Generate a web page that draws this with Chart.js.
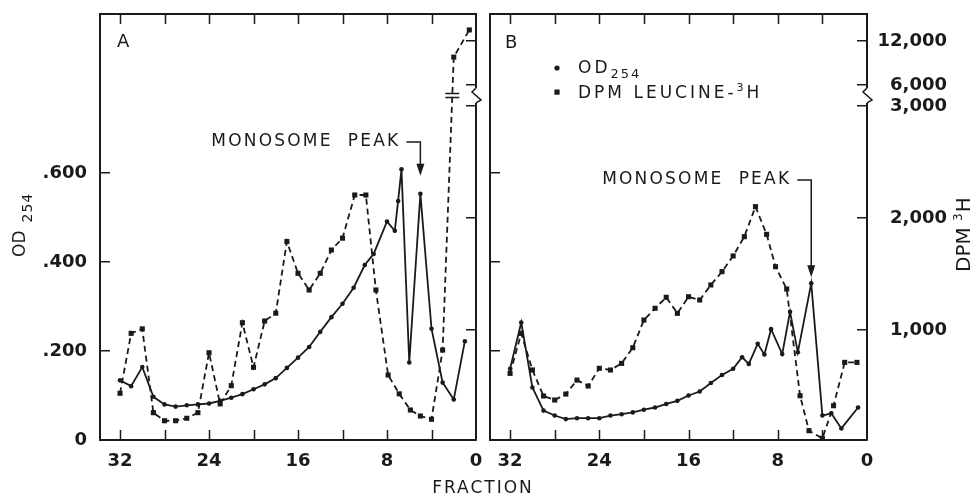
<!DOCTYPE html>
<html lang="en">
<head>
<meta charset="utf-8">
<title>OD254 and DPM leucine-3H across gradient fractions</title>
<script src="https://cdn.jsdelivr.net/npm/chart.js@4.4.1/dist/chart.umd.min.js"></script>
<style>
  body, html { margin: 0; padding: 0; background: #fff; }
  #wrap { position: relative; width: 974px; height: 497px; overflow: hidden; }
  canvas { position: absolute; top: 0; }
  #chartA { left: 0; }
  #chartB { left: 482px; }
  #xtitle {
    position: absolute; left: 383px; width: 200px; top: 477px;
    text-align: center; font: 17px "DejaVu Sans"; letter-spacing: 2px; color: #1a1a1a;
  }
</style>
</head>
<body>
<div id="wrap">
  <canvas id="chartA" width="482" height="497"></canvas>
  <canvas id="chartB" width="492" height="497"></canvas>
  <div id="xtitle">FRACTION</div>
</div>
<script>
// ---- data ----
// panel A
const fracA_od = [32, 31, 30, 29, 28, 27, 26, 25, 24, 23, 22, 21, 20, 19, 18, 17, 16, 15, 14, 13, 12, 11, 10, 9.2, 8, 7.3, 7, 6.7, 6, 5, 4, 3, 2, 1];
const odA = [0.134, 0.121, 0.164, 0.097, 0.080, 0.075, 0.078, 0.080, 0.082, 0.088, 0.095, 0.103, 0.114, 0.125, 0.139, 0.162, 0.185, 0.209, 0.243, 0.276, 0.306, 0.342, 0.393, 0.418, 0.491, 0.470, 0.537, 0.608, 0.174, 0.553, 0.250, 0.129, 0.091, 0.222];
const fracA_dpm = [32, 31, 30, 29, 28, 27, 26, 25, 24, 23, 22, 21, 20, 19, 18, 17, 16, 15, 14, 13, 12, 10.9, 9.9, 9, 7.9, 6.9, 5.9, 5, 4, 3, 2, 0.6];
const dpmA = [435, 970, 1010, 262, 190, 190, 212, 262, 797, 340, 503, 1065, 667, 1080, 1150, 1790, 1506, 1357, 1506, 1714, 1820, 2205, 2205, 1357, 598, 430, 286, 232, 203, 821, 9800, 13500];
// panel B
const fracB_od = [32, 31, 30, 29, 28, 27, 26, 25, 24, 23, 22, 21, 20, 19, 18, 17, 16, 15, 14, 13, 12, 11.2, 10.6, 9.8, 9.2, 8.6, 7.6, 6.9, 6.2, 5, 4, 3.2, 2.3, 0.8];
const odB = [0.160, 0.264, 0.118, 0.066, 0.055, 0.047, 0.049, 0.049, 0.049, 0.055, 0.058, 0.062, 0.068, 0.073, 0.081, 0.088, 0.100, 0.109, 0.128, 0.146, 0.160, 0.186, 0.171, 0.216, 0.192, 0.249, 0.193, 0.288, 0.197, 0.352, 0.055, 0.060, 0.026, 0.073];
const fracB_dpm = [32, 31, 30, 29, 28, 27, 26, 25, 24, 23, 22, 21, 20, 19, 18, 17, 16, 15, 14, 13, 12, 11, 10, 9, 8.2, 7.2, 6, 5.2, 4, 3, 2, 0.9];
const dpmB = [613, 970, 643, 411, 375, 428, 553, 500, 658, 643, 702, 842, 1089, 1194, 1292, 1149, 1297, 1268, 1402, 1521, 1661, 1833, 2101, 1854, 1565, 1366, 413, 101, 33, 324, 711, 711];

// ticks
const xTickValues = [32, 28, 24, 20, 16, 12, 8, 4, 0];
const odTickValues = [0, 0.2, 0.4, 0.6];
const dpmTickValues = [1000, 2000, 3000, 6000, 12000];

const ink = '#1a1a1a';
const fam = '"DejaVu Sans", sans-serif';

// DPM axis is broken between 3,000 and 6,000 and compressed above
function squash(v) {
    if (v <= 3000) return v;
    if (v <= 6000) return 3000 + (v - 3000) * 0.0625;
    return 3187.5 + (v - 6000) * 0.0655;
}
class BrokenScale extends Chart.LinearScale {
    getPixelForValue(value) {
        return super.getPixelForValue(squash(value));
    }
}
BrokenScale.id = 'broken';
BrokenScale.defaults = {};
Chart.register(BrokenScale);

function grid(ticksInside) {
    return { drawOnChartArea: false, drawTicks: ticksInside, tickLength: -10, color: ink, lineWidth: 1.5 };
}
function frame() {
    return { display: true, color: ink, width: 2 };
}
const tickFont = { family: 'DejaVu Sans', size: 18, weight: 'bold' };

// fixed box size, and no extra label padding pushed into the layout
function fixSize(s, w, h) {
    if (w !== null) s.width = w;
    if (h !== null) s.height = h;
    s.paddingTop = s.paddingBottom = s.paddingLeft = s.paddingRight = 0;
}

function makeScales(panel) {
    const isA = panel === 'A';
    return {
        x: {
            type: 'linear', position: 'bottom', reverse: true, min: 0, max: 33.8,
            grid: grid(false), border: frame(),
            afterBuildTicks: s => { s.ticks = xTickValues.map(v => ({ value: v })); },
            ticks: { autoSkip: false, maxRotation: 0, padding: 11, color: ink, font: tickFont,
                     callback: v => (v % 8 === 0 ? String(v) : '') },
            afterFit: s => fixSize(s, null, 57)
        },
        xTop: {
            type: 'linear', position: 'top', reverse: true, min: 0, max: 33.8,
            grid: grid(false), border: frame(),
            afterBuildTicks: s => { s.ticks = xTickValues.map(v => ({ value: v })); },
            ticks: { display: false },
            afterFit: s => fixSize(s, null, 14)
        },
        y: {
            type: 'linear', position: 'left', min: 0, max: 0.957,
            grid: grid(true), border: frame(),
            afterBuildTicks: s => { s.ticks = odTickValues.map(v => ({ value: v })); },
            ticks: { display: isA, padding: 23, color: ink, font: tickFont,
                     callback: v => (v === 0 ? '0' : v.toFixed(3).slice(1)) },
            afterFit: s => fixSize(s, isA ? 100 : 8, null)
        },
        dpm: {
            type: 'broken', position: 'right', min: 18, max: 3821,
            grid: grid(true), border: frame(),
            afterBuildTicks: s => { s.ticks = dpmTickValues.map(v => ({ value: v })); },
            ticks: { display: !isA, crossAlign: 'far', padding: 21, color: ink, font: tickFont,
                     callback: v => v.toLocaleString('en-US') },
            afterFit: s => fixSize(s, isA ? 6 : 80, null)
        }
    };
}

function makeDatasets(fracOd, od, fracDpm, dpm) {
    return [
        {
            label: 'OD254',
            data: fracOd.map((f, i) => ({ x: f, y: od[i] })),
            xAxisID: 'x', yAxisID: 'y',
            borderColor: ink, borderWidth: 1.8, tension: 0,
            pointRadius: 2.3, pointBackgroundColor: ink, pointBorderWidth: 0
        },
        {
            label: 'DPM LEUCINE-3H',
            data: fracDpm.map((f, i) => ({ x: f, y: dpm[i] })),
            xAxisID: 'x', yAxisID: 'dpm',
            borderColor: ink, borderWidth: 1.8, borderDash: [6, 4], tension: 0,
            pointStyle: 'rect', pointRadius: 3.6, pointBackgroundColor: ink, pointBorderWidth: 0
        }
    ];
}

// inward tick marks on top and bottom, labels, arrows, breaks and axis titles
const decor = {
    id: 'decor',
    afterDraw(chart, args, o) {
        const { ctx, chartArea: ca, scales } = chart;
        ctx.save();
        ctx.fillStyle = ink;
        ctx.strokeStyle = ink;
        ctx.setLineDash([]);

        ctx.lineWidth = 1.5;
        ctx.beginPath();
        xTickValues.forEach(v => {
            if (v === 0) return;
            const px = Math.round(scales.x.getPixelForValue(v)) + 0.5;
            ctx.moveTo(px, ca.bottom);
            ctx.lineTo(px, ca.bottom - 10);
            ctx.moveTo(px, ca.top);
            ctx.lineTo(px, ca.top + 10);
        });
        ctx.stroke();

        // panel letter
        ctx.font = '18px ' + fam;
        ctx.textAlign = 'left';
        ctx.textBaseline = 'middle';
        ctx.fillText(o.letter, ca.left + o.letterDx, o.letterY);

        // broken right axis
        const yTop = scales.dpm.getPixelForValue(6000) + 3;
        const yBot = scales.dpm.getPixelForValue(3000) - 3;
        const xr = ca.right;
        ctx.fillStyle = '#fff';
        ctx.fillRect(xr - 2, yTop, 4, yBot - yTop);
        ctx.fillStyle = ink;
        ctx.lineWidth = 1.5;
        ctx.beginPath();
        ctx.moveTo(xr, yTop);
        ctx.lineTo(xr - 4, yTop + 4);
        ctx.lineTo(xr + 5, yBot - 3);
        ctx.lineTo(xr, yBot);
        ctx.stroke();

        // "=" mark where the DPM line jumps the break
        const pts = chart.getDatasetMeta(1).data;
        const yMid = (yTop + yBot) / 2;
        for (let i = 0; i < pts.length - 1; i++) {
            const a = pts[i], b = pts[i + 1];
            if ((a.y - yMid) * (b.y - yMid) < 0) {
                const t = (yMid - a.y) / (b.y - a.y);
                const xm = a.x + (b.x - a.x) * t;
                ctx.lineWidth = 1.6;
                ctx.beginPath();
                ctx.moveTo(xm - 7, yMid - 2); ctx.lineTo(xm + 7, yMid - 2);
                ctx.moveTo(xm - 7, yMid + 2); ctx.lineTo(xm + 7, yMid + 2);
                ctx.stroke();
            }
        }

        // monosome peak arrow
        const n = o.note;
        const ax = scales.x.getPixelForValue(n.fraction);
        const tipY = scales.y.getPixelForValue(n.od) - n.gap;
        ctx.font = '17px ' + fam;
        ctx.letterSpacing = '2.2px';
        ctx.textAlign = 'right';
        ctx.textBaseline = 'middle';
        ctx.fillText('MONOSOME  PEAK', ax - 20, n.textY);
        ctx.letterSpacing = '0px';
        ctx.lineWidth = 1.5;
        ctx.beginPath();
        ctx.moveTo(ax - 14, n.textY);
        ctx.lineTo(ax, n.textY);
        ctx.lineTo(ax, tipY - 8);
        ctx.stroke();
        ctx.beginPath();
        ctx.moveTo(ax - 4, tipY - 12);
        ctx.lineTo(ax + 4, tipY - 12);
        ctx.lineTo(ax, tipY);
        ctx.closePath();
        ctx.fill();

        if (o.legend) {
            const lx = ca.left + 67;
            const tx = ca.left + 88;
            ctx.beginPath();
            ctx.arc(lx, 68, 2.6, 0, Math.PI * 2);
            ctx.fill();
            ctx.fillRect(lx - 2.6, 89.5, 5.2, 5.2);
            ctx.textAlign = 'left';
            ctx.textBaseline = 'alphabetic';
            ctx.letterSpacing = '3px';
            ctx.font = '17px ' + fam;
            ctx.fillText('OD', tx, 73);
            let w = ctx.measureText('OD').width;
            ctx.letterSpacing = '2px';
            ctx.font = '13px ' + fam;
            ctx.fillText('254', tx + w, 78);
            ctx.letterSpacing = '3px';
            ctx.font = '17px ' + fam;
            ctx.fillText('DPM LEUCINE-', tx, 98);
            w = ctx.measureText('DPM LEUCINE-').width;
            ctx.font = '11px ' + fam;
            ctx.fillText('3', tx + w, 91);
            const w3 = ctx.measureText('3').width;
            ctx.font = '17px ' + fam;
            ctx.fillText('H', tx + w + w3, 98);
            ctx.letterSpacing = '0px';
        }

        // rotated axis titles
        ctx.textAlign = 'left';
        ctx.textBaseline = 'alphabetic';
        if (o.leftTitle) {
            ctx.save();
            ctx.translate(25, 257);
            ctx.rotate(-Math.PI / 2);
            ctx.font = '17px ' + fam;
            ctx.fillText('OD', 0, 0);
            const w = ctx.measureText('OD').width;
            ctx.font = '14px ' + fam;
            ctx.letterSpacing = '1px';
            ctx.fillText('254', w + 8, 7);
            ctx.restore();
        }
        if (o.rightTitle) {
            ctx.save();
            ctx.translate(chart.width - 4, 272);
            ctx.rotate(-Math.PI / 2);
            ctx.font = '20px ' + fam;
            ctx.fillText('DPM', 0, 0);
            const w = ctx.measureText('DPM ').width;
            ctx.font = '12px ' + fam;
            ctx.fillText('3', w, -8);
            const w3 = ctx.measureText('3').width;
            ctx.font = '20px ' + fam;
            ctx.fillText('H', w + w3 + 1, 0);
            ctx.restore();
        }
        ctx.restore();
    }
};

function makeChart(id, panel, datasets, decorOpts, padRight) {
    return new Chart(document.getElementById(id), {
        type: 'line',
        data: { datasets: datasets },
        options: {
            responsive: false,
            animation: false,
            events: [],
            devicePixelRatio: 1,
            layout: { autoPadding: false, padding: { left: 0, right: padRight, top: 0, bottom: 0 } },
            scales: makeScales(panel),
            plugins: {
                legend: { display: false },
                tooltip: { enabled: false },
                decor: decorOpts
            }
        },
        plugins: [decor]
    });
}

makeChart('chartA', 'A', makeDatasets(fracA_od, odA, fracA_dpm, dpmA), {
    letter: 'A', letterDx: 17, letterY: 42,
    note: { fraction: 5, od: 0.553, gap: 18, textY: 142 },
    legend: false, leftTitle: true, rightTitle: false
}, 0);

makeChart('chartB', 'B', makeDatasets(fracB_od, odB, fracB_dpm, dpmB), {
    letter: 'B', letterDx: 15, letterY: 43,
    note: { fraction: 5, od: 0.352, gap: 6, textY: 180 },
    legend: true, leftTitle: false, rightTitle: true
}, 27);
</script>
</body>
</html>
